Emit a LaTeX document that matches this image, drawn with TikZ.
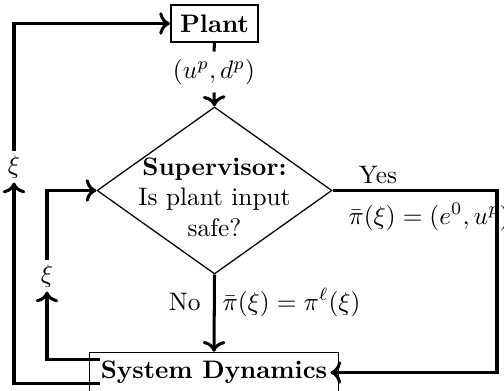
\documentclass[tikz,border=0pt]{standalone}
\usetikzlibrary{shapes.geometric,arrows.meta}
\begin{document}
\begin{tikzpicture}[x=0.395pt,y=-0.395pt,
  conn/.style={very thick,->},
  seg/.style={very thick},
  plantbox/.style={draw,line width=0.8pt,minimum width=34.4pt,minimum height=14.6pt,inner sep=0pt,font=\bfseries},
  sdbox/.style={draw,line width=0.4pt,minimum width=98pt,minimum height=16pt,inner sep=0pt,font=\bfseries},
  dia/.style={draw,diamond,line width=0.5pt,minimum width=92.8pt,minimum height=66pt,inner sep=0pt},
  xilab/.style={inner sep=1.5pt},
  txt/.style={inner sep=0pt}
]
\useasboundingbox (0,0) rectangle (504,391);
\node[plantbox] (plant) at (214.5,23.5) {Plant};
\node[dia] (sup) at (214.5,190.5) {};
\node[align=center,txt] (suptext) at (214.5,197) {\textbf{Supervisor:}\\Is plant input\\safe?};
\node[sdbox] (sd) at (214,372.5) {System Dynamics};
\node[inner sep=2.9pt] (upd) at (214,72) {$(u^p,d^p)$};
\node[xilab] (xiA) at (14,167) {$\xi$};
\node[xilab] (xiB) at (47,276) {$\xi$};
\node[anchor=base,txt] (yes) at (378,183) {Yes};
\node[anchor=base west,txt] (pia) at (348,224) {$\bar\pi(\xi) = (e^0, u^p)$};
\node[anchor=base east,txt] (no) at (201,310) {No};
\node[anchor=base west,txt] (pib) at (222,310) {$\bar\pi(\xi) = \pi^\ell(\xi)$};
\coordinate (rc) at (497,372.5);
% plant to supervisor
\draw[seg] (plant.south) -- (upd.north);
\draw[conn] (upd.south) -- (sup.north);
% yes branch
\draw[conn] (sup.east) -| (rc) -- ([xshift=-3.2pt]sd.east);
% no branch
\draw[conn] (sup.south) -- (sd.north);
% inner feedback
\draw[conn] ([xshift=4pt,yshift=5.1pt]sd.west) -| (xiB.south);
\draw[conn] (xiB.north) |- (sup.west);
% outer feedback
\draw[conn] ([xshift=4pt,yshift=-4.3pt]sd.west) -| (xiA.south);
\draw[conn] (xiA.north) |- (plant.west);
\end{tikzpicture}
\end{document}
